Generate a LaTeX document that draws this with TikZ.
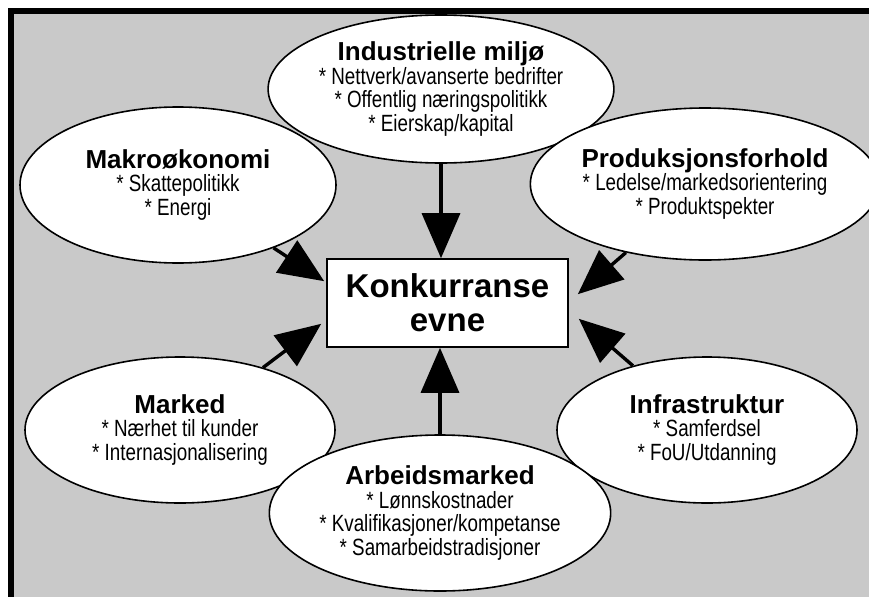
\documentclass[tikz,border=0pt]{standalone}
\usepackage{fontspec}
\setmainfont{Liberation Sans}
\newfontfamily\subfam[FakeStretch=0.8]{Liberation Sans}
\usetikzlibrary{shapes.geometric,arrows.meta,calc}
\newcommand\ttl[1]{{\normalfont\bfseries\fontsize{26}{23}\selectfont #1}}
\begin{document}
\begin{tikzpicture}[x=1pt,y=-1pt,
  bubble/.style={ellipse,draw,line width=1.6pt,fill=white,inner sep=0pt,align=center,
    font=\subfam\fontsize{23.5}{23.5}\selectfont},
  arr/.style={line width=3.4pt,-{Triangle[length=45pt,width=38pt]}},
  centerbox/.style={draw,line width=1.6pt,fill=white,inner sep=0pt,align=center,
    font=\bfseries\fontsize{33}{34}\selectfont}
]
\useasboundingbox (0,0) rectangle (869,597);
\fill[black!21] (14,14) rectangle (869,597);
\fill[black] (8,8) rectangle (869,14);
\fill[black] (8,8) rectangle (14,597);

\node[bubble,minimum width=310pt,minimum height=148pt] (indu) at (441,89)
  {\ttl{Industrielle miljø}\\{}* Nettverk/avanserte bedrifter\\{}* Offentlig næringspolitikk\\{}* Eierskap/kapital};
\node[bubble,minimum width=316pt,minimum height=156pt] (makro) at (178,185)
  {\ttl{Makroøkonomi}\\{}* Skattepolitikk\\{}* Energi};
\node[bubble,minimum width=304pt,minimum height=152pt] (prod) at (705,184)
  {\ttl{Produksjonsforhold}\\{}* Ledelse/markedsorientering\\{}* Produktspekter};
\node[bubble,minimum width=310pt,minimum height=146pt] (marked) at (180,430)
  {\ttl{Marked}\\{}* Nærhet til kunder\\{}* Internasjonalisering};
\node[bubble,minimum width=300pt,minimum height=146pt] (infra) at (707,430)
  {\ttl{Infrastruktur}\\{}* Samferdsel\\{}* FoU/Utdanning};
\node[bubble,minimum width=310pt,minimum height=156pt] (arbeid) at (440,513)
  {\ttl{Arbeidsmarked}\\{}* Lønnskostnader\\{}* Kvalifikasjoner/kompetanse\\{}* Samarbeidstradisjoner};

\node[centerbox,minimum width=241pt,minimum height=88pt] (box) at (447.5,303)
  {Konkurranse\\evne};

\draw[arr] (indu) -- (indu |- box.north);
\draw[arr] (arbeid) -- (arbeid |- box.south);
\draw[arr] (makro) -- ($(box.north west)+(-2,23)$);
\draw[arr] (prod) -- ($(box.north east)+(9,36)$);
\draw[arr] (marked) -- ($(box.south west)+(-5,-24)$);
\draw[arr] (infra) -- ($(box.south east)+(10,-29)$);
\end{tikzpicture}
\end{document}
